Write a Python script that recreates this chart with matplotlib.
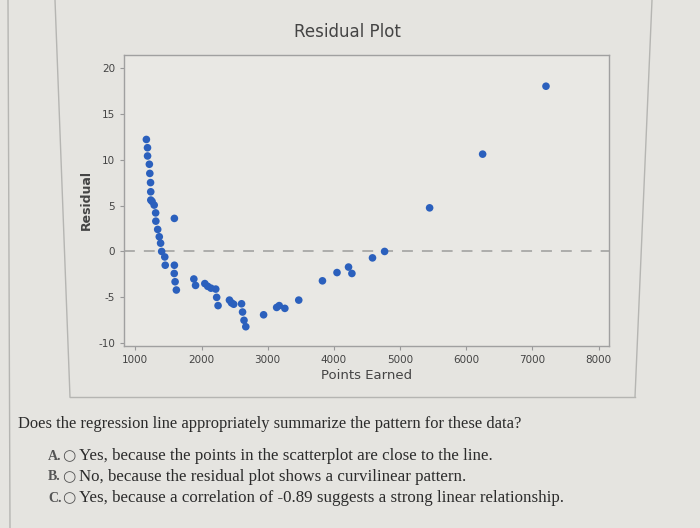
import matplotlib.pyplot as plt
from matplotlib.lines import Line2D

# werte
points_earned = [1167, 1184, 1185, 1212, 1219, 1230, 1233, 1234, 1253, 1285,
                 1307, 1310, 1338, 1362, 1382, 1398, 1445, 1452, 1590, 1590,
                 1588, 1601, 1620, 1884, 1910, 2050, 2094, 2143, 2215, 2229,
                 2250, 2422, 2453, 2486, 2605, 2620, 2642, 2669, 2938, 3135,
                 3174, 3259, 3469, 3827, 4047, 4221, 4272, 4583, 4766, 5446,
                 6247, 7204]
residuals = [12.2, 11.3, 10.4, 9.5, 8.5, 7.5, 6.5, 5.6, 5.45, 5.05,
             4.2, 3.3, 2.4, 1.6, 0.9, 0.0, -0.6, -1.5, 3.6, -1.5,
             -2.4, -3.3, -4.2, -3.0, -3.7, -3.5, -3.8, -4.0, -4.1, -5.0,
             -5.9, -5.3, -5.6, -5.75, -5.7, -6.6, -7.5, -8.2, -6.9, -6.1,
             -5.9, -6.2, -5.3, -3.2, -2.3, -1.7, -2.4, -0.7, 0.0, 4.75,
             10.6, 18.0]

x_ticks = [1000, 2000, 3000, 4000, 5000, 6000, 7000, 8000]
y_ticks = [-10, -5, 0, 5, 10, 15, 20]

frage = "Does the regression line appropriately summarize the pattern for these data?"
antworten = [("A.", "Yes, because the points in the scatterplot are close to the line."),
             ("B.", "No, because the residual plot shows a curvilinear pattern."),
             ("C.", "Yes, because a correlation of -0.89 suggests a strong linear relationship.")]

plt.rcParams["axes.unicode_minus"] = False

W, H = 700, 528
fig = plt.figure(figsize=(7, 5.28), dpi=100)
fig.patch.set_facecolor("#e5e4e0")

# rahmen vom panel und seitenrand
for x0, y0, x1, y1 in [(55, 0, 70, 397), (652, 0, 635, 397), (70, 397, 635, 397), (8, 0, 10, 528)]:
    fig.add_artist(Line2D([x0 / W, x1 / W], [1 - y0 / H, 1 - y1 / H],
                          color="#b5b5b2", lw=1.0, transform=fig.transFigure))

ax = fig.add_axes([124 / W, 1 - 346 / H, (609 - 124) / W, (346 - 55) / H])
ax.set_facecolor("#e9e8e4")

ax.axhline(0, color="#a8a8a6", lw=1.3, dashes=(6, 5), zorder=1)
ax.scatter(points_earned, residuals, s=30, color="#2b60bd", edgecolors="none", zorder=3)

ax.set_xlim(829, 8156)
ax.set_ylim(-10.3, 21.4)
ax.set_xticks(x_ticks)
ax.set_yticks(y_ticks)
ax.tick_params(labelsize=7.5, colors="#999999", labelcolor="#444444", length=3, width=0.8)
for s in ax.spines.values():
    s.set_color("#a0a0a0")
    s.set_linewidth(1.0)

ax.set_xlabel("Points Earned", fontsize=9.5, color="#444444", labelpad=3)
ax.set_ylabel("Residual", fontsize=9, color="#444444", fontweight="bold", labelpad=4)
fig.text(347 / W, 1 - 32 / H, "Residual Plot", ha="center", va="center",
         fontsize=12, color="#444444")

# frage und antworten
fig.text(18 / W, 1 - 424 / H, frage, ha="left", va="center",
         fontsize=11.9, family="Liberation Serif", color="#2b2b2b")
for i, (buchst, text) in enumerate(antworten):
    y = 1 - (456 + 21 * i) / H
    fig.text(48 / W, y, buchst, ha="left", va="center", fontsize=10,
             family="Liberation Serif", fontweight="bold", color="#555555")
    fig.text(69 / W, y, "○", ha="center", va="center", fontsize=11,
             family="DejaVu Sans", color="#555555")
    fig.text(79 / W, y, text, ha="left", va="center", fontsize=12.2,
             family="Liberation Serif", color="#2b2b2b")

fig.savefig("out.png", dpi=100, facecolor=fig.get_facecolor())
